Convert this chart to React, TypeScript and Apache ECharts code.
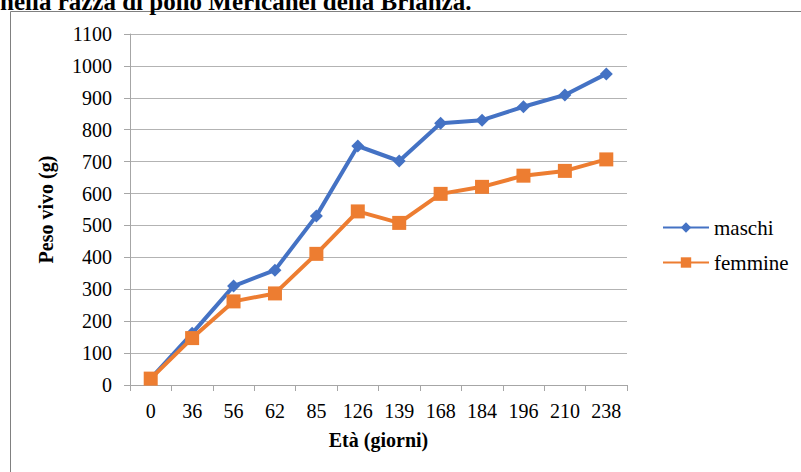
import React, { useEffect, useRef } from "react";
import * as echarts from "echarts";

const categories = ["0", "36", "56", "62", "85", "126", "139", "168", "184", "196", "210", "238"];
const maschi = [20, 162, 310, 360, 530, 749, 702, 820, 830, 872, 909, 975];
const femmine = [20, 147, 262, 287, 411, 544, 508, 599, 621, 656, 671, 707];
const seriesNames = ["maschi", "femmine"];
const titleText = "nella razza di pollo Mericanel della Brianza.";
const xName = "Età (giorni)";
const yName = "Peso vivo (g)";

const FONT = "'Liberation Serif', 'Times New Roman', serif";

export default function App() {
  const ref = useRef<HTMLDivElement>(null);
  useEffect(() => {
    if (!ref.current) return;
    const chart = echarts.init(ref.current, null, { renderer: "svg" });
    chart.setOption({
      animation: false,
      backgroundColor: "#ffffff",
      textStyle: { fontFamily: FONT },
      graphic: [
        {
          type: "polyline",
          shape: { points: [[10.5, 472], [10.5, 11.5], [801, 11.5]] },
          style: { stroke: "#808080", lineWidth: 1, fill: "none" },
          silent: true,
        },
        {
          type: "text",
          x: 0,
          y: -11,
          style: {
            text: titleText,
            font: `bold 25px ${FONT}`,
            fill: "#000000",
            verticalAlign: "top",
          },
        },
      ],
      legend: {
        orient: "vertical",
        left: 657,
        top: 212,
        itemWidth: 46,
        itemHeight: 13,
        itemGap: 14,
        textStyle: { fontFamily: FONT, fontSize: 21, color: "#000" },
        data: seriesNames,
      },
      grid: { left: 130, right: 174, top: 34, bottom: 87, containLabel: false },
      xAxis: {
        type: "category",
        data: categories,
        boundaryGap: true,
        name: xName,
        nameLocation: "middle",
        nameGap: 45,
        nameTextStyle: { fontFamily: FONT, fontSize: 20, fontWeight: "bold", color: "#000" },
        axisLine: { lineStyle: { color: "#a6a6a6", width: 1 } },
        axisTick: { show: true, length: 6, alignWithLabel: false, lineStyle: { color: "#a6a6a6" } },
        axisLabel: { fontFamily: FONT, fontSize: 20, color: "#000", margin: 16, interval: 0 },
      },
      yAxis: {
        type: "value",
        min: 0,
        max: 1100,
        interval: 100,
        name: yName,
        nameLocation: "middle",
        nameGap: 74,
        nameRotate: 90,
        nameTextStyle: { fontFamily: FONT, fontSize: 20, fontWeight: "bold", color: "#000" },
        axisLine: { show: true, lineStyle: { color: "#a6a6a6", width: 1 } },
        axisTick: { show: true, length: 6, lineStyle: { color: "#a6a6a6" } },
        axisLabel: {
          fontFamily: FONT,
          fontSize: 20,
          color: "#000",
          margin: 18,
          formatter: (v: number) => String(v),
        },
        splitLine: { show: true, lineStyle: { color: "#b3b3b3", width: 1 } },
      },
      series: [
        {
          name: seriesNames[0],
          type: "line",
          data: maschi,
          symbol: "diamond",
          symbolSize: 13,
          lineStyle: { color: "#4472C4", width: 4 },
          itemStyle: { color: "#4472C4" },
        },
        {
          name: seriesNames[1],
          type: "line",
          data: femmine,
          symbol: "rect",
          symbolSize: 14,
          lineStyle: { color: "#ED7D31", width: 4 },
          itemStyle: { color: "#ED7D31" },
        },
      ],
    });
    return () => chart.dispose();
  }, []);
  return (
    <div
      ref={ref}
      style={{ position: "absolute", left: 0, top: 0, width: 801, height: 472 }}
    />
  );
}
